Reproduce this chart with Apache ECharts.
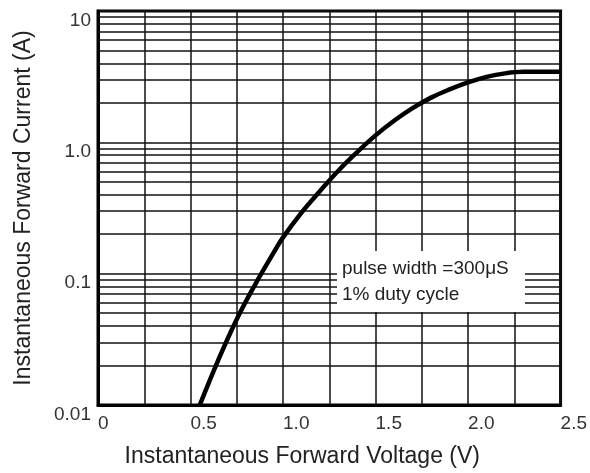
<!DOCTYPE html>
<html>
<head>
<meta charset="utf-8">
<script src="https://cdn.jsdelivr.net/npm/echarts@6/dist/echarts.min.js"></script>
<style>html,body{margin:0;padding:0;background:#fff}#c{width:590px;height:473px}</style>
</head>
<body>
<div id="c"></div>
<script>
const voltage = [0.55, 0.65, 0.75, 0.85, 0.95, 1.0, 1.1, 1.2, 1.3, 1.4, 1.5, 1.6, 1.7, 1.8, 1.9, 2.0, 2.1, 2.2, 2.3, 2.4, 2.5];
const current = [0.01, 0.022, 0.045, 0.083, 0.145, 0.189, 0.292, 0.426, 0.61, 0.84, 1.13, 1.46, 1.82, 2.19, 2.53, 2.86, 3.15, 3.35, 3.44, 3.44, 3.44];
const xTickLabels = {0: '0', 0.5: '0.5', 1: '1.0', 1.5: '1.5', 2: '2.0', 2.5: '2.5'};
const yTickLabels = {0.01: '0.01', 0.1: '0.1', 1: '1.0', 10: '10'};
const minorY = [0.02,0.03,0.04,0.05,0.06,0.07,0.08,0.09,0.2,0.3,0.4,0.5,0.6,0.7,0.8,0.9,2,3,4,5,6,7,8,9];
const noteLines = ['pulse width =300\u03bcS', '1% duty cycle'];

const FONT = 'Liberation Sans, Arial, sans-serif';
const chart = echarts.init(document.getElementById('c'));
chart.setOption({
  animation: false,
  backgroundColor: '#fff',
  grid: {left: 98, right: 28, top: 11, bottom: 67, show: true, borderColor: '#000', borderWidth: 3, backgroundColor: 'transparent'},
  xAxis: {
    type: 'value', min: 0, max: 2.5, interval: 0.25,
    name: 'Instantaneous Forward Voltage (V)', nameLocation: 'middle', nameGap: 40,
    nameTextStyle: {fontFamily: FONT, fontSize: 23, color: '#222', padding: [0, 54, 0, 0]},
    axisLine: {show: true, lineStyle: {color: '#000', width: 3}},
    axisTick: {show: false},
    axisLabel: {
      fontFamily: FONT, fontSize: 19, color: '#333', align: 'left', verticalAlign: 'top', margin: 9,
      formatter: v => { const k = Math.round(v * 100) / 100; return xTickLabels[k] !== undefined ? xTickLabels[k] : ''; }
    },
    splitLine: {show: true, lineStyle: {color: '#111', width: 1.5}}
  },
  yAxis: {
    type: 'log', logBase: 10, min: 0.01, max: 10,
    name: 'Instantaneous Forward Current (A)', nameLocation: 'middle', nameGap: 63,
    nameTextStyle: {fontFamily: FONT, fontSize: 23, color: '#222'},
    axisLine: {show: true, lineStyle: {color: '#000', width: 3}},
    axisTick: {show: false},
    axisLabel: {
      fontFamily: FONT, fontSize: 19, color: '#333', verticalAlign: 'top', lineHeight: 19, margin: 7,
      formatter: v => { for (const k in yTickLabels) { if (Math.abs(+k - v) / v < 1e-6) return yTickLabels[k]; } return ''; }
    },
    splitLine: {show: true, lineStyle: {color: '#111', width: 1.5}}
  },
  series: [
    {
      type: 'line', data: [], z: 1, silent: true,
      markLine: {
        silent: true, symbol: 'none', animation: false,
        label: {show: false},
        lineStyle: {color: '#111', width: 1.5, type: 'solid'},
        data: minorY.map(v => ({yAxis: v}))
      }
    },
    {
      type: 'line', z: 5, smooth: 0.4, symbol: 'none',
      lineStyle: {color: '#000', width: 4.5},
      data: voltage.map((v, i) => [v, current[i]])
    }
  ],
  graphic: [
    {type: 'rect', z: 100, shape: {x: 337, y: 251, width: 188, height: 61}, style: {fill: '#fff'}},
    {type: 'text', z: 101, x: 342, y: 269, style: {text: noteLines[0], fontFamily: FONT, fontSize: 19, fill: '#222', verticalAlign: 'middle'}},
    {type: 'text', z: 101, x: 342, y: 295, style: {text: noteLines[1], fontFamily: FONT, fontSize: 19, fill: '#222', verticalAlign: 'middle'}}
  ]
});
</script>
</body>
</html>
